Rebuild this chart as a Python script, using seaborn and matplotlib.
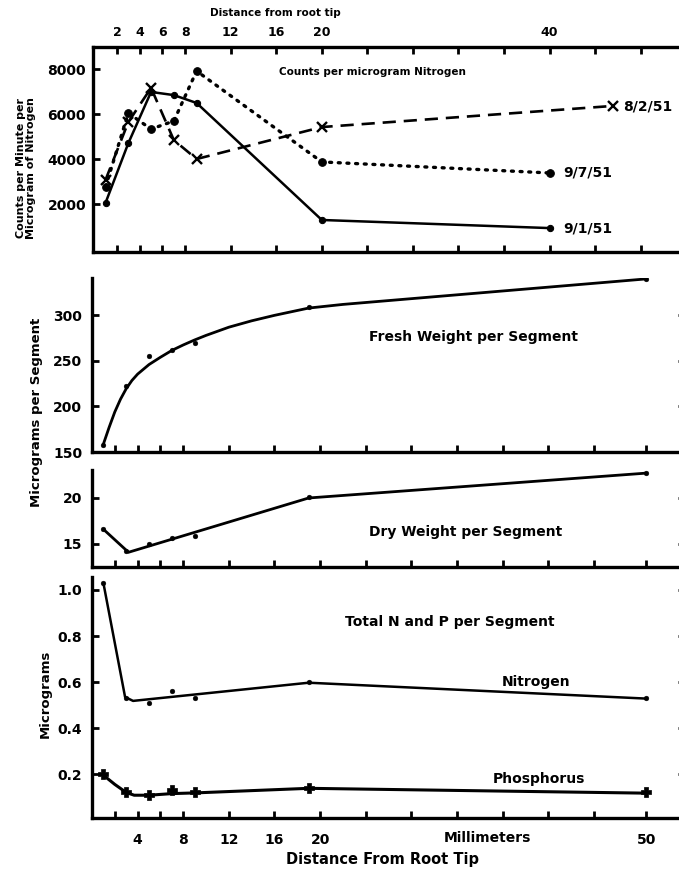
import numpy as np
import matplotlib
matplotlib.use("Agg")
import matplotlib.pyplot as plt
import seaborn as sns

# ---------------- data ----------------
# Top panel: counts per minute per microgram of nitrogen
c91_x = [1, 3, 5, 7, 9, 20, 40]
c91_y = [2050, 4700, 6980, 6840, 6490, 1290, 930]
c97_x = [1, 3, 5, 7, 9, 20, 40]
c97_y = [2760, 6040, 5330, 5690, 7910, 3870, 3380]
c82_x = [1, 3, 5, 7, 9, 20, 45.6]
c82_y = [3070, 5640, 7160, 4840, 4000, 5420, 6360]
top_ticks = [2, 4, 6, 8, 12, 16, 20, 24, 28, 32, 36, 40, 44, 48]
top_ticklabels = ["2", "4", "6", "8", "12", "16", "20", "", "", "", "", "40", "", ""]
count_yticks = [2000, 4000, 6000, 8000]

# Lower panels (per segment)
seg_x = [1, 3, 5, 7, 9, 19, 50]
fresh_y = [158, 222, 255, 262, 270, 309, 340]
fresh_fit_x = [1, 1.5, 2, 2.5, 3, 3.5, 4, 5, 6, 7, 8, 9, 10, 12, 14, 16, 19, 22, 50]
fresh_fit_y = [158.7, 177, 194, 208, 219.5, 228.5, 235.5, 246, 254, 261.5, 267.5, 273,
               278, 287, 294, 300, 308, 312, 340]
fresh_yticks = [150, 200, 250, 300]
fresh_yticklabels = ["150", "200", "250", "300"]

dry_y = [16.6, 14.2, 15.0, 15.6, 15.9, 20.1, 22.7]
dry_fit_x = [1, 3.2, 19, 50]
dry_fit_y = [16.6, 14.1, 20.0, 22.7]
dry_yticks = [15, 20]

nit_y = [1.03, 0.53, 0.51, 0.56, 0.53, 0.60, 0.53]
nit_fit_x = [1, 2.9, 3.6, 19, 50]
nit_fit_y = [1.03, 0.535, 0.518, 0.597, 0.528]
phos_y = [0.20, 0.12, 0.11, 0.13, 0.12, 0.14, 0.12]
phos_fit_x = [1, 2, 3, 3.7, 5, 7, 9, 19, 50]
phos_fit_y = [0.195, 0.155, 0.12, 0.108, 0.108, 0.115, 0.118, 0.138, 0.117]
np_yticks = [0.2, 0.4, 0.6, 0.8, 1.0]

low_ticks = [2, 4, 6, 8, 12, 16, 20, 24, 28, 32, 36, 40, 44, 50]
low_ticklabels = ["", "4", "", "8", "12", "16", "20", "", "", "", "", "", "", "50"]

# ---------------- style ----------------
sns.set_style("ticks")
plt.rcParams["font.family"] = ["DejaVu Sans"]
plt.rcParams["font.weight"] = "bold"
for key in ["text.color", "axes.labelcolor", "xtick.color", "ytick.color",
            "axes.edgecolor"]:
    plt.rcParams[key] = "black"

W, H = 679, 871
fig = plt.figure(figsize=(W / 100, H / 100), dpi=100)
fig.patch.set_facecolor("white")


def rect(l, r, t, b):
    return [l / W, 1 - b / H, (r - l) / W, (b - t) / H]


def ftext(x, y, s, **kw):
    kw.setdefault("va", "center")
    kw.setdefault("fontweight", "bold")
    kw.setdefault("color", "black")
    fig.text(x / W, 1 - y / H, s, **kw)


# lower panels: last interval (44 -> 50 mm) is compressed
R = 0.766


def fwd(x):
    x = np.asarray(x, dtype=float)
    return np.where(x <= 44, x, 44 + (x - 44) * R)


def inv(y):
    y = np.asarray(y, dtype=float)
    return np.where(y <= 44, y, 44 + (y - 44) / R)


SPW = 2.4
K = "black"

# ---------------- top panel ----------------
ax1 = fig.add_axes(rect(93, 685, 47, 252))
for s in ["left", "top", "bottom"]:
    ax1.spines[s].set_linewidth(SPW)
    ax1.spines[s].set_color(K)
ax1.spines["right"].set_visible(False)

sns.lineplot(x=c91_x, y=c91_y, ax=ax1, color=K, lw=1.8, marker="o", markersize=4.5,
             markeredgecolor=K, markerfacecolor=K, sort=False, estimator=None)
sns.lineplot(x=c97_x, y=c97_y, ax=ax1, color=K, lw=2.4, linestyle=(0, (0.6, 2.0)),
             dash_capstyle="round", marker="o", markersize=5.5, markeredgecolor=K,
             markerfacecolor=K, sort=False, estimator=None)
sns.lineplot(x=c82_x, y=c82_y, ax=ax1, color=K, lw=1.9, linestyle=(0, (5, 3)),
             marker="x", markersize=7.5, markeredgewidth=1.7, markeredgecolor=K,
             sort=False, estimator=None)

ax1.set_xlim(-0.1, 51.9)
ax1.set_ylim(-133, 8978)
ax1.set_xticks(top_ticks)
ax1.set_xticklabels(top_ticklabels, fontsize=9, fontweight="bold")
ax1.set_yticks(count_yticks)
ax1.set_yticklabels([str(v) for v in count_yticks], fontsize=10, fontweight="bold")
ax1.tick_params(axis="x", top=True, bottom=True, labeltop=True, labelbottom=False,
                direction="in", length=5, width=2, pad=6, color=K)
ax1.tick_params(axis="y", left=True, right=False, direction="in", length=5, width=2,
                pad=5, color=K)
ax1.set_xlabel("")
ax1.set_ylabel("")

ftext(275, 13, "Distance from root tip", ha="center", fontsize=7.5)
ftext(372, 72, "Counts per microgram Nitrogen", ha="center", fontsize=7.5)
ftext(623, 107, "8/2/51", ha="left", fontsize=10)
ftext(563, 173, "9/7/51", ha="left", fontsize=10)
ftext(563, 228, "9/1/51", ha="left", fontsize=10)
ftext(26, 168, "Counts per Minute per\nMicrogram of Nitrogen", ha="center",
      rotation=90, fontsize=8, linespacing=1.0)


def style_lower(ax, ylim, yticks, ylabels, xlabels=False):
    ax.set_xscale("function", functions=(fwd, inv))
    ax.set_xlim(0, 54.44)
    ax.set_ylim(*ylim)
    for s in ["left", "bottom"]:
        ax.spines[s].set_linewidth(SPW)
        ax.spines[s].set_color(K)
    ax.spines["top"].set_visible(False)
    ax.spines["right"].set_visible(False)
    ax.set_xticks(low_ticks)
    if xlabels:
        ax.set_xticklabels(low_ticklabels, fontsize=10, fontweight="bold")
    else:
        ax.set_xticklabels([""] * len(low_ticks))
    ax.xaxis.set_minor_locator(matplotlib.ticker.NullLocator())
    ax.set_yticks(yticks)
    ax.set_yticklabels(ylabels, fontsize=10, fontweight="bold")
    ax.tick_params(axis="x", top=False, bottom=True, direction="in", length=5, width=2,
                   pad=11, color=K)
    ax.tick_params(axis="y", left=True, right=True, direction="in", length=5, width=2,
                   pad=7, color=K)
    ax.set_xlabel("")
    ax.set_ylabel("")


# ---------------- fresh weight ----------------
ax2 = fig.add_axes(rect(92, 685, 278, 452))
style_lower(ax2, (150.5, 341), fresh_yticks, fresh_yticklabels)
sns.lineplot(x=fresh_fit_x, y=fresh_fit_y, ax=ax2, color=K, lw=2.0, sort=False,
             estimator=None)
sns.scatterplot(x=seg_x, y=fresh_y, ax=ax2, color=K, s=12, edgecolor=K, zorder=3)
ftext(369, 337, "Fresh Weight per Segment", ha="left", fontsize=10)

# ---------------- dry weight ----------------
ax3 = fig.add_axes(rect(92, 685, 470, 567))
style_lower(ax3, (12.5, 23.04), dry_yticks, [str(v) for v in dry_yticks])
sns.lineplot(x=dry_fit_x, y=dry_fit_y, ax=ax3, color=K, lw=2.0, sort=False,
             estimator=None)
sns.scatterplot(x=seg_x, y=dry_y, ax=ax3, color=K, s=12, edgecolor=K, zorder=3)
ftext(369, 532, "Dry Weight per Segment", ha="left", fontsize=10)
ftext(37, 412, "Micrograms per Segment", ha="center", rotation=90, fontsize=9.5)

# ---------------- N and P ----------------
ax4 = fig.add_axes(rect(92, 685, 577, 818))
style_lower(ax4, (0.009, 1.0565), np_yticks, ["0.2", "0.4", "0.6", "0.8", "1.0"],
            xlabels=True)
sns.lineplot(x=nit_fit_x, y=nit_fit_y, ax=ax4, color=K, lw=1.8, sort=False,
             estimator=None)
sns.scatterplot(x=seg_x, y=nit_y, ax=ax4, color=K, s=12, edgecolor=K, zorder=3)
sns.lineplot(x=phos_fit_x, y=phos_fit_y, ax=ax4, color=K, lw=2.2, sort=False,
             estimator=None)
sns.scatterplot(x=seg_x, y=phos_y, ax=ax4, color=K, marker="P", s=60, edgecolor=K,
                linewidth=0.5, zorder=3)
ftext(345, 622, "Total N and P per Segment", ha="left", fontsize=10)
ftext(536, 682, "Nitrogen", ha="center", fontsize=10)
ftext(539, 779, "Phosphorus", ha="center", fontsize=10)
ftext(45, 694, "Micrograms", ha="center", rotation=90, fontsize=9.5)
ftext(487, 838, "Millimeters", ha="center", fontsize=10)
ftext(382, 859, "Distance From Root Tip", ha="center", fontsize=10.5)

fig.savefig("out.png", dpi=100, facecolor="white")
